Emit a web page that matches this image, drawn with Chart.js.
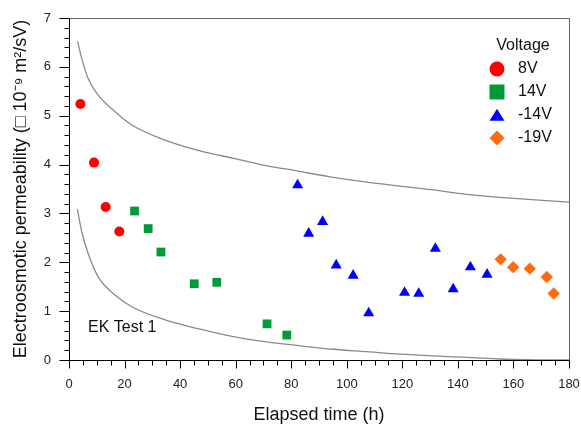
<!DOCTYPE html>
<html>
<head>
<meta charset="utf-8">
<script src="https://cdn.jsdelivr.net/npm/chart.js@4/dist/chart.umd.min.js"></script>
<style>
  html, body { margin: 0; padding: 0; background: #fff; }
  #wrap { width: 581px; height: 426px; }
</style>
</head>
<body>
<div id="wrap"><canvas id="chart" width="581" height="426"></canvas></div>
<script>
// values
const hours8V = [4.1, 9.0, 13.2, 18.1];
const perm8V = [5.24, 4.04, 3.13, 2.63];

const hours14V = [23.6, 28.5, 33.1, 45.1, 53.2, 71.3, 78.4];
const perm14V = [3.05, 2.69, 2.21, 1.56, 1.59, 0.74, 0.51];

const hoursNeg14V = [82.3, 86.3, 91.3, 96.2, 102.3, 107.9, 120.8, 125.9, 131.9, 138.3, 144.5, 150.5];
const permNeg14V = [3.58, 2.59, 2.83, 1.94, 1.73, 0.96, 1.38, 1.36, 2.28, 1.45, 1.90, 1.75];

const hoursNeg19V = [155.4, 159.9, 165.9, 172.0, 174.5];
const permNeg19V = [2.06, 1.90, 1.87, 1.70, 1.36];

const upperHours = [3.1, 4.6, 6.9, 10.5, 16.6, 22.6, 34.6, 46.5, 59.8, 69.9, 82.0, 94.0, 106.0, 119.1, 131.1, 143.2, 155.1, 180];
const upperPerm = [6.52, 6.17, 5.76, 5.42, 5.08, 4.81, 4.50, 4.29, 4.12, 3.99, 3.87, 3.75, 3.65, 3.56, 3.48, 3.39, 3.33, 3.23];

const lowerHours = [3.0, 4.6, 6.9, 10.5, 16.6, 22.6, 34.6, 47.2, 59.1, 71.2, 83.2, 95.1, 107.2, 119.2, 137.2, 155.1, 173.2, 180];
const lowerPerm = [3.09, 2.62, 2.18, 1.70, 1.33, 1.09, 0.82, 0.63, 0.48, 0.37, 0.29, 0.22, 0.17, 0.12, 0.07, 0.02, 0.0, 0.0];

const xTickLabels = [0, 20, 40, 60, 80, 100, 120, 140, 160, 180];
const yTickLabels = [0, 1, 2, 3, 4, 5, 6, 7];

const FONT = "'Liberation Sans', Arial, Helvetica, sans-serif";

function toPoints(xs, ys) {
  return xs.map((x, i) => ({ x, y: ys[i] }));
}

function markerSet(label, xs, ys, color, style, radius) {
  return {
    label,
    data: toPoints(xs, ys),
    pointStyle: style,
    pointRadius: radius,
    pointHoverRadius: radius,
    pointBackgroundColor: color,
    pointBorderColor: color,
    pointBorderWidth: 0,
    showLine: false,
    legendMarker: true
  };
}

function curveSet(xs, ys) {
  return {
    label: "",
    data: toPoints(xs, ys),
    showLine: true,
    borderColor: "#8a8a8a",
    borderWidth: 1.3,
    pointRadius: 0,
    cubicInterpolationMode: "monotone",
    fill: false
  };
}

function drawMarker(ctx, style, x, y, r) {
  ctx.beginPath();
  if (style === "circle") {
    ctx.arc(x, y, r, 0, Math.PI * 2);
  } else if (style === "rect") {
    ctx.rect(x - r, y - r, 2 * r, 2 * r);
  } else if (style === "triangle") {
    ctx.moveTo(x, y - r * 0.85);
    ctx.lineTo(x + r, y + r * 0.75);
    ctx.lineTo(x - r, y + r * 0.75);
    ctx.closePath();
  } else if (style === "rectRot") {
    ctx.moveTo(x, y - r);
    ctx.lineTo(x + r, y);
    ctx.lineTo(x, y + r);
    ctx.lineTo(x - r, y);
    ctx.closePath();
  }
  ctx.fill();
}

function tickLine(ctx, x1, y1, x2, y2) {
  ctx.beginPath();
  ctx.moveTo(x1, y1);
  ctx.lineTo(x2, y2);
  ctx.stroke();
}

// box around the plot plus major / minor tick marks
const frameAndTicks = {
  id: "frameAndTicks",
  afterDraw(chart) {
    const ctx = chart.ctx;
    const area = chart.chartArea;
    const xScale = chart.scales.x;
    const yScale = chart.scales.y;
    const left = Math.round(area.left) + 0.5;
    const right = Math.round(area.right) + 0.5;
    const top = Math.round(area.top) + 0.5;
    const bottom = Math.round(area.bottom) + 0.5;
    ctx.save();
    ctx.lineWidth = 1;
    ctx.strokeStyle = "#000000";
    for (let i = 0; i <= 36; i += 1) {
      const px = Math.round(xScale.getPixelForValue(i * 5)) + 0.5;
      tickLine(ctx, px, bottom, px, bottom + (i % 4 === 0 ? 8 : 5));
    }
    for (let i = 0; i <= 35; i += 1) {
      const py = Math.round(yScale.getPixelForValue(i / 5)) + 0.5;
      tickLine(ctx, left, py, left - (i % 5 === 0 ? 10 : 5), py);
    }
    ctx.strokeStyle = "#666666";
    tickLine(ctx, left, top, right, top);
    tickLine(ctx, right, top, right, bottom);
    ctx.strokeStyle = "#000000";
    tickLine(ctx, left, top, left, bottom);
    tickLine(ctx, left, bottom, right, bottom);
    ctx.restore();
  }
};

const insideLegend = {
  id: "insideLegend",
  afterDraw(chart) {
    const { ctx } = chart;
    ctx.save();
    ctx.fillStyle = "#111";
    ctx.font = `16px ${FONT}`;
    ctx.textAlign = "center";
    ctx.textBaseline = "middle";
    ctx.fillText("Voltage", 523, 46);
    const rows = chart.data.datasets.filter((ds) => ds.legendMarker);
    rows.forEach((ds, index) => {
      const cy = 69 + index * 23;
      ctx.fillStyle = ds.pointBackgroundColor;
      drawMarker(ctx, ds.pointStyle, 497, cy, 7.5);
      ctx.fillStyle = "#111";
      ctx.textAlign = "left";
      ctx.fillText(ds.label, 518, cy);
    });
    ctx.fillText("EK Test 1", 88, 328);
    ctx.restore();
  }
};

new Chart(document.getElementById("chart").getContext("2d"), {
  type: "scatter",
  data: {
    datasets: [
      curveSet(upperHours, upperPerm),
      curveSet(lowerHours, lowerPerm),
      markerSet("8V", hours8V, perm8V, "#ff0000", "circle", 5),
      markerSet("14V", hours14V, perm14V, "#009a3a", "rect", 6.2),
      markerSet("-14V", hoursNeg14V, permNeg14V, "#0000ff", "triangle", 6.4),
      markerSet("-19V", hoursNeg19V, permNeg19V, "#ff6a10", "rectRot", 6.2)
    ]
  },
  options: {
    responsive: false,
    animation: false,
    layout: { padding: { top: 18, right: 12, left: 0, bottom: 0 } },
    plugins: {
      legend: { display: false },
      tooltip: { enabled: false }
    },
    scales: {
      x: {
        type: "linear",
        min: 0,
        max: 180,
        afterBuildTicks: (scale) => {
          scale.ticks = xTickLabels.map((value) => ({ value }));
        },
        afterFit: (scale) => {
          scale.height = 66;
          scale.paddingLeft = 0;
          scale.paddingRight = 0;
        },
        grid: { display: false, drawTicks: false },
        border: { display: false },
        ticks: {
          color: "#222",
          font: { family: FONT, size: 13 },
          padding: 17,
          maxRotation: 0
        },
        title: {
          display: true,
          text: "Elapsed time (h)",
          color: "#111",
          font: { family: FONT, size: 18 },
          padding: { top: 0, bottom: 0 }
        }
      },
      y: {
        type: "linear",
        min: 0,
        max: 7,
        afterBuildTicks: (scale) => {
          scale.ticks = yTickLabels.map((value) => ({ value }));
        },
        afterFit: (scale) => {
          scale.width = 69;
          scale.paddingTop = 0;
          scale.paddingBottom = 0;
        },
        grid: { display: false, drawTicks: false },
        border: { display: false },
        ticks: {
          color: "#222",
          font: { family: FONT, size: 13 },
          padding: 18
        },
        title: {
          display: true,
          text: "Electroosmotic permeability (\u25A1 10\u207B\u2079 m\u00B2/sV)",
          color: "#111",
          font: { family: FONT, size: 18 },
          padding: { top: 10, bottom: 0 }
        }
      }
    }
  },
  plugins: [frameAndTicks, insideLegend]
});
</script>
</body>
</html>
